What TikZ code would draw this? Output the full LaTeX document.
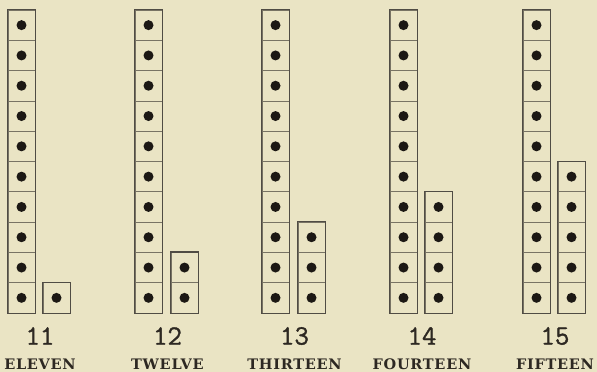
\documentclass[tikz,border=0pt]{standalone}
\usepackage{fontspec}
\usepackage{xcolor}
\usetikzlibrary{positioning}
\newfontfamily\wordfont{DejaVu Serif}[LetterSpace=5]
\newfontfamily\numfont{Latin Modern Mono}[FakeBold=1.2]

\definecolor{paper}{RGB}{234,228,196}
\definecolor{framegray}{RGB}{80,76,68}
\definecolor{sepgray}{RGB}{120,115,100}
\definecolor{dotblack}{RGB}{28,24,20}
\definecolor{inkdark}{RGB}{45,40,34}

\begin{document}
\begin{tikzpicture}[x=1pt, y=1pt,
    cell/.style={draw=sepgray, line width=0.6pt, minimum width=27pt, minimum height=30.3pt, inner sep=0pt},
    dot/.style={circle, fill=dotblack, minimum size=10pt, inner sep=0pt},
    frame/.style={draw=framegray, line width=1.2pt},
    numlabel/.style={font=\numfont\fontsize{28}{28}\selectfont, text=inkdark},
    wordlabel/.style={font=\wordfont\bfseries\fontsize{14.5}{14.5}\selectfont, text=inkdark, anchor=base}]
    % Background
    \fill[paper] (0,0) rectangle (597,372);
    \useasboundingbox (0,0) rectangle (597,372);

    % Columns: ten rods and the units beside them
    \foreach \n/\tx/\sx/\k/\w in {11/8/43/1/ELEVEN, 12/135/171/2/TWELVE, 13/262/298/3/THIRTEEN, 14/390/425/4/FOURTEEN, 15/523/558/5/FIFTEEN}{
        % ten cells
        \foreach \i in {1,...,10}{
            \node[cell] (t\n-\i) at (\tx+13.5, {59+30.3*(\i-0.5)}) {};
            \node[dot] (dt\n-\i) at (t\n-\i) {};
        }
        \draw[frame] (t\n-1.south west) rectangle (t\n-10.north east);
        % unit cells
        \foreach \i in {1,...,\k}{
            \node[cell] (u\n-\i) at (\sx+13.5, {59+30.3*(\i-0.5)}) {};
            \node[dot] (du\n-\i) at (u\n-\i) {};
        }
        \draw[frame] (u\n-1.south west) rectangle (u\n-\k.north east);
        % labels
        \node[numlabel] (n\n) at ({(\tx+\sx+27)/2+1}, 36) {\n};
        \node[wordlabel] (w\n) at ({(\tx+\sx+27)/2+1}, 2.5) {\w};
    }
\end{tikzpicture}
\end{document}
